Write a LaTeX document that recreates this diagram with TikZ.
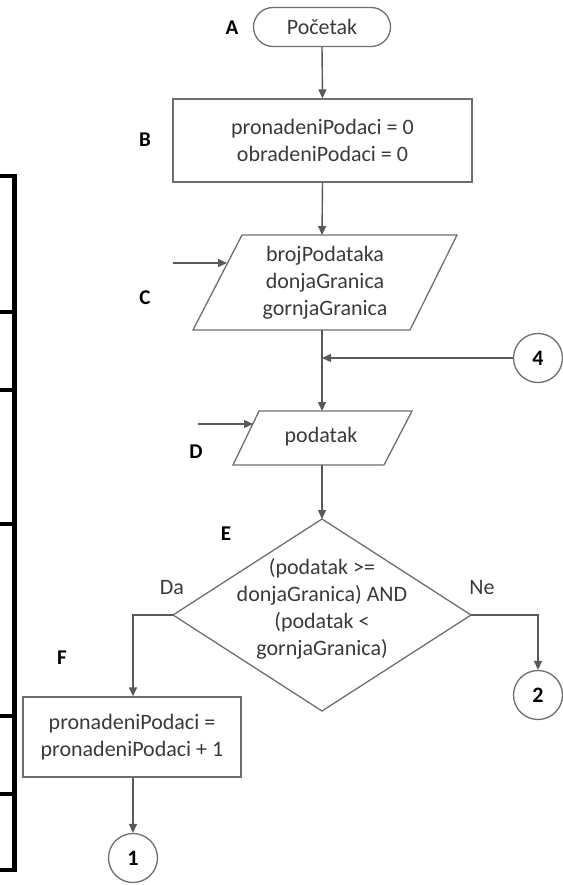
\documentclass[tikz,border=0pt]{standalone}
\usepackage{fontspec}
\setmainfont{Carlito}
\usetikzlibrary{arrows.meta}
\definecolor{lineg}{HTML}{595959}
\definecolor{shapeg}{HTML}{6E6E6E}
\definecolor{txtg}{HTML}{3A3A3A}
\begin{document}
\begin{tikzpicture}[x=1pt,y=-1pt,
  txt/.style={text=txtg,font=\fontsize{22}{27}\selectfont,align=center,inner sep=0pt},
  lbl/.style={font=\bfseries\fontsize{21}{24}\selectfont,text=black,inner sep=0pt},
  shp/.style={draw=shapeg,line width=1.3pt},
  conn/.style={draw=lineg,line width=1.4pt,-{Triangle[length=9pt,width=8pt]}},
  conncirc/.style={shp,circle,minimum size=49pt,inner sep=0pt,font=\bfseries\fontsize{22}{24}\selectfont,text=black},
  brk/.style={draw=black,line width=5pt},
  tick/.style={draw=black,line width=4pt}]
\useasboundingbox (0,0) rectangle (562,885);
% left bracket
\draw[brk] (14.5,174) -- (14.5,872);
\foreach \yy in {176,312,390,524,716,794,870}{\draw[tick] (0,\yy) -- (17,\yy);}
% A
\node[shp,rectangle,rounded corners=19.5pt,minimum width=137pt,minimum height=39pt,txt] (a) at (322,27) {Početak};
\node[lbl] (la) at (232,28) {A};
% B
\node[shp,rectangle,minimum width=299pt,minimum height=83pt,txt] (b) at (322.5,140.5) {pronadeniPodaci = 0\\obradeniPodaci = 0};
\node[lbl] (lb) at (145,140) {B};
% C
\draw[shp] (242,235) -- (457,235) -- (410,330) -- (193,330) -- cycle;
\coordinate (ctop) at (322,235);
\coordinate (cbot) at (322,330);
\coordinate (cleft) at (227,263);
\coordinate (cin) at (173,263);
\node[txt] (c) at (325,283) {brojPodataka\\donjaGranica\\gornjaGranica};
\node[lbl] (lc) at (145,298) {C};
% junction & 4
\coordinate (j) at (322,358);
\node[conncirc] (n4) at (538,358) {4};
% D
\draw[shp] (259,411) -- (412,411) -- (384,465) -- (233,465) -- cycle;
\coordinate (dtop) at (322,411);
\coordinate (dbot) at (322,465);
\coordinate (dleft) at (253,424);
\coordinate (din) at (198,424);
\node[txt] (d) at (321,437) {podatak};
\node[lbl] (ld) at (196,452) {D};
% E
\draw[shp] (322,519) -- (471,615) -- (322,711) -- (173,615) -- cycle;
\coordinate (etop) at (322,519);
\coordinate (eleft) at (173,615);
\coordinate (eright) at (471,615);
\node[txt] (e) at (322,609) {(podatak >=\\donjaGranica) AND\\(podatak <\\gornjaGranica)};
\node[lbl] (le) at (226,534) {E};
\node[txt] (da) at (172,588) {Da};
\node[txt] (ne) at (482,588) {Ne};
% F
\node[shp,rectangle,minimum width=218pt,minimum height=80pt,txt] (f) at (132,737) {pronadeniPodaci =\\pronadeniPodaci + 1};
\node[lbl] (lf) at (62,658) {F};
% circles
\node[conncirc] (n1) at (133,858) {1};
\node[conncirc] (n2) at (538,695) {2};
% connectors
\draw[conn] (a.south) -- (b.north);
\draw[conn] (b.south) -- (ctop);
\draw[conn] (cin) -- (cleft);
\draw[conn] (cbot) -- (dtop);
\draw[conn] (n4.west) -- (j);
\draw[conn] (din) -- (dleft);
\draw[conn] (dbot) -- (etop);
\draw[conn] (eleft) -| (f.north -| n1);
\draw[conn] (eright) -| (n2.north);
\draw[conn] (f.south -| n1) -- (n1.north);
\end{tikzpicture}
\end{document}
